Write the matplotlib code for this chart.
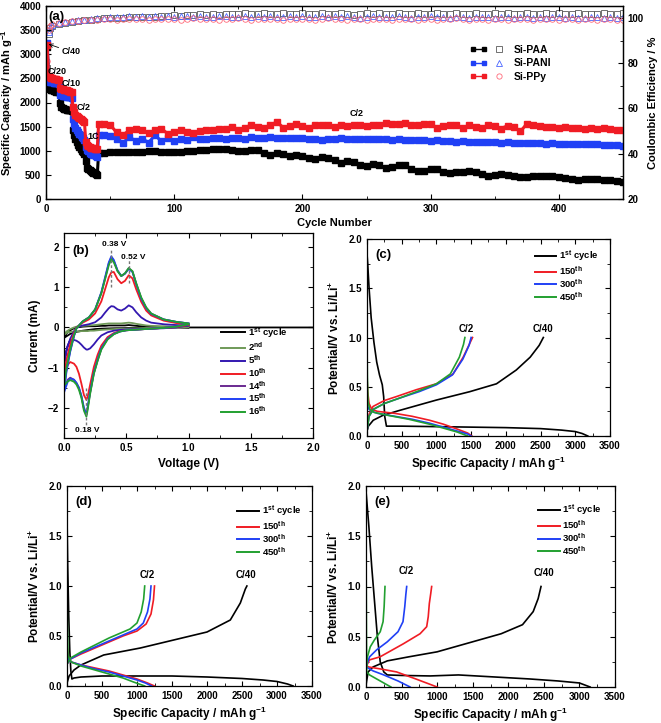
import matplotlib
matplotlib.use('Agg')
import matplotlib.pyplot as plt
from matplotlib.lines import Line2D
from matplotlib.legend_handler import HandlerTuple, HandlerLine2D
from matplotlib.ticker import MultipleLocator

plt.rcParams.update({
    'font.family': ['Liberation Sans', 'DejaVu Sans'],
    'font.weight': 'bold',
    'axes.labelweight': 'bold',
    'font.size': 7,
    'mathtext.fontset': 'custom',
    'mathtext.rm': 'Liberation Sans:bold',
    'mathtext.it': 'Liberation Sans:bold',
    'mathtext.bf': 'Liberation Sans:bold',
    'mathtext.default': 'rm',
    'xtick.direction': 'in', 'ytick.direction': 'in',
    'axes.linewidth': 0.9,
    'xtick.major.size': 3.5, 'ytick.major.size': 3.5,
    'xtick.minor.size': 2, 'ytick.minor.size': 2,
})

# ---------------- panel (a) data ----------------
cycles_early = list(range(1, 41))
cycles_late = [41] + list(range(45, 451, 5))

paa_early = [3150, 2300, 2270, 2260, 2250, 2240, 2230, 2220, 2220, 2210,
             1980, 1900, 1880, 1870, 1860, 1850, 1850, 1840, 1840, 1830,
             1430, 1320, 1240, 1180, 1120, 1080, 1040, 1000, 970, 940,
             780, 640, 620, 600, 580, 560, 540, 530, 510, 500]
pani_early = [3230, 2440, 2430, 2420, 2420, 2410, 2410, 2400, 2400, 2390,
              2160, 2150, 2140, 2130, 2130, 2120, 2120, 2110, 2110, 2100,
              1650, 1550, 1480, 1430, 1390, 1350, 1320, 1290, 1260, 1230,
              1080, 1020, 990, 960, 940, 930, 920, 910, 900, 880]
ppy_early = [3190, 2540, 2520, 2510, 2500, 2490, 2480, 2480, 2470, 2460,
             2300, 2280, 2270, 2260, 2250, 2250, 2240, 2230, 2220, 2210,
             1910, 1800, 1740, 1710, 1690, 1670, 1650, 1640, 1620, 1600,
             1180, 1120, 1090, 1070, 1060, 1050, 1050, 1040, 1040, 1030]

paa_late = [950, 960, 970, 975, 975, 980, 980, 980, 985, 985, 980, 980, 975,
            980, 990, 1000, 1010, 1020, 1030, 1040, 1030, 1010, 1000, 990, 1020, 1010, 960, 920, 950, 930, 900, 920, 900,
            860, 820, 880, 840, 800, 750, 780, 760, 700, 690, 730, 700, 650, 660, 700, 700, 620, 580, 590, 630,
            620, 560, 540, 550, 560, 570, 550, 510, 480, 490, 510, 500, 470, 450, 460, 480, 480, 470, 470, 460,
            440, 410, 400, 410, 420, 410, 400, 390, 370, 350]
pani_late = [1330, 1320, 1300, 1240, 1160, 1290, 1200, 1250, 1170, 1320, 1200, 1260, 1200,
             1240, 1220, 1280, 1250, 1240, 1270, 1260, 1250, 1270, 1260, 1250, 1280, 1270, 1260, 1280, 1270, 1260, 1270, 1260, 1260,
             1250, 1240, 1230, 1240, 1250, 1260, 1250, 1240, 1250, 1250, 1240, 1250, 1240, 1230, 1240, 1230, 1220, 1230, 1220, 1210,
             1220, 1200, 1210, 1190, 1200, 1190, 1180, 1190, 1180, 1180, 1170, 1180, 1170, 1160, 1170, 1160, 1160, 1150, 1160, 1150,
             1140, 1150, 1140, 1130, 1140, 1130, 1120, 1120, 1110, 1100]
ppy_late = [1550, 1560, 1540, 1380, 1330, 1420, 1450, 1430, 1360, 1420, 1460, 1350, 1390,
            1420, 1390, 1370, 1410, 1440, 1440, 1460, 1450, 1500, 1420, 1480, 1530, 1500, 1470, 1530, 1600, 1480, 1510, 1560, 1520,
            1470, 1540, 1530, 1530, 1500, 1530, 1520, 1540, 1530, 1520, 1540, 1530, 1580, 1560, 1550, 1580, 1540, 1530, 1550, 1560,
            1470, 1520, 1540, 1530, 1470, 1530, 1500, 1470, 1530, 1510, 1460, 1520, 1490, 1400, 1560, 1540, 1510, 1500, 1500, 1480,
            1490, 1470, 1480, 1460, 1470, 1460, 1470, 1450, 1440, 1430]

ce_cycles = [1, 2, 3] + list(range(5, 451, 5))
ce_paa = [78.0, 93.0, 95.5, 96.5, 97.3, 97.8, 98.3, 98.7, 99.0, 99.3, 99.6, 99.8, 100.0, 100.2, 100.1, 100.4,
          100.3, 100.5, 100.6, 100.4, 100.7, 100.9, 101.2, 101.0, 101.5, 101.3, 101.6, 101.4, 101.8, 101.5,
          101.7, 101.9, 101.6, 102.0, 101.7, 101.8, 102.1, 101.6, 101.9, 102.2, 101.8, 101.7, 102.0, 101.6,
          101.9, 102.3, 101.8, 101.6, 102.0, 101.7, 101.5, 101.9, 102.2, 101.7, 102.0, 101.8, 101.6, 102.1,
          101.8, 101.9, 102.4, 101.7, 101.8, 102.0, 101.6, 101.9, 102.1, 101.7, 101.8, 102.2, 101.6, 101.9,
          102.0, 101.7, 102.3, 101.8, 101.6, 102.0, 101.9, 101.7, 102.1, 101.8, 102.0, 101.7, 101.9, 102.2,
          101.8, 101.6, 101.9, 102.1, 101.8, 101.7, 102.0]
ce_pani = [75.0, 94.0, 96.0, 97.0, 97.6, 98.1, 98.5, 98.9, 99.2, 99.5, 99.8, 100.1, 100.3, 100.5, 100.4, 100.7,
           100.6, 100.8, 100.5, 100.9, 100.6, 100.8, 100.4, 100.7, 100.9, 100.5, 100.8, 100.6, 100.3, 100.7,
           100.9, 100.5, 100.6, 100.8, 100.4, 100.7, 100.5, 100.9, 100.6, 100.4, 100.8, 100.5, 100.7, 100.3,
           100.6, 100.8, 100.4, 100.7, 100.5, 100.9, 100.6, 100.2, 100.5, 100.7, 100.4, 100.6, 100.3, 100.7,
           100.5, 100.2, 100.6, 100.4, 100.7, 100.3, 100.5, 100.1, 100.6, 100.4, 100.2, 100.6, 100.3, 100.5,
           100.1, 100.4, 100.6, 100.2, 100.5, 100.3, 100.0, 100.4, 100.2, 100.5, 100.3, 100.1, 100.4, 100.2,
           100.0, 100.3, 100.5, 100.1, 100.3, 100.2, 100.4]
ce_ppy = [81.0, 94.5, 96.5, 97.2, 97.8, 98.2, 98.5, 98.8, 99.0, 99.2, 99.3, 99.4, 99.5, 99.3, 99.6, 99.4,
          99.7, 99.5, 99.3, 99.6, 99.4, 99.7, 99.5, 99.3, 99.6, 99.8, 99.4, 99.5, 99.7, 99.3, 99.6, 99.4,
          99.8, 99.5, 99.3, 99.6, 99.4, 99.7, 99.5, 99.2, 99.6, 99.4, 99.7, 99.5, 99.3, 99.6, 99.8, 99.4,
          99.5, 99.3, 99.7, 99.5, 99.2, 99.6, 99.4, 99.7, 99.3, 99.5, 99.6, 99.4, 99.2, 99.7, 99.5, 99.3,
          99.6, 99.4, 99.8, 99.5, 99.3, 99.6, 99.4, 99.2, 99.5, 99.7, 99.3, 99.6, 99.4, 99.5, 99.2, 99.6,
          99.4, 99.7, 99.3, 99.5, 99.6, 99.2, 99.4, 99.7, 99.3, 99.5, 99.4, 99.2, 99.3]

# ---------------- panel (b) data ----------------
cv_cath_v = [1.0, 0.9, 0.8, 0.7, 0.6, 0.5, 0.45, 0.4, 0.35, 0.3, 0.27, 0.24, 0.21, 0.19, 0.18,
             0.16, 0.14, 0.12, 0.1, 0.08, 0.05, 0.03, 0.0]
cv_anod_v = [0.0, 0.02, 0.05, 0.08, 0.1, 0.15, 0.2, 0.25, 0.3, 0.33, 0.36, 0.38, 0.4, 0.43, 0.46,
             0.49, 0.52, 0.55, 0.58, 0.62, 0.66, 0.7, 0.8, 0.9, 1.0]
cv1_cath_v = [2.0, 1.8, 1.6, 1.4, 1.2, 1.0, 0.8, 0.6, 0.5, 0.4, 0.3, 0.25, 0.2, 0.15, 0.1, 0.05, 0.0]
cv1_cath_i = [0, 0, 0, 0, 0, 0, -0.005, -0.01, -0.015, -0.02, -0.03, -0.04, -0.06, -0.08, -0.11, -0.16, -0.26]
cv1_anod_i = [-0.26, -0.15, -0.07, -0.02, 0.0, 0.02, 0.03, 0.03, 0.04, 0.04, 0.05, 0.05, 0.05, 0.05, 0.05,
              0.05, 0.06, 0.05, 0.04, 0.03, 0.02, 0.02, 0.01, 0.01, 0.0]
cv2_cath_i = [0.02, 0.0, -0.01, -0.01, -0.02, -0.03, -0.03, -0.04, -0.05, -0.06, -0.07, -0.08, -0.08, -0.09,
              -0.09, -0.09, -0.09, -0.1, -0.1, -0.1, -0.11, -0.12, -0.18]
cv2_anod_i = [-0.18, -0.1, -0.04, 0.0, 0.02, 0.04, 0.05, 0.06, 0.08, 0.09, 0.1, 0.1, 0.1, 0.1, 0.1,
              0.11, 0.12, 0.11, 0.09, 0.07, 0.05, 0.04, 0.03, 0.02, 0.02]
cv5_cath_i = [0.05, 0.0, -0.02, -0.03, -0.04, -0.05, -0.06, -0.08, -0.12, -0.2, -0.3, -0.42, -0.52, -0.55,
              -0.55, -0.5, -0.43, -0.37, -0.33, -0.31, -0.33, -0.45, -0.9]
cv5_anod_i = [-0.9, -0.55, -0.28, -0.1, 0.0, 0.05, 0.08, 0.13, 0.25, 0.37, 0.48, 0.53, 0.52, 0.45, 0.42,
              0.47, 0.55, 0.5, 0.38, 0.25, 0.17, 0.12, 0.08, 0.06, 0.05]
cv10_cath_i = [0.06, 0.01, -0.01, -0.03, -0.05, -0.07, -0.09, -0.14, -0.24, -0.45, -0.68, -0.98, -1.42, -1.72,
               -1.8, -1.68, -1.4, -1.15, -0.98, -0.9, -0.86, -0.93, -1.25]
cv10_anod_i = [-1.25, -0.8, -0.42, -0.14, 0.0, 0.12, 0.2, 0.35, 0.65, 0.95, 1.25, 1.37, 1.38, 1.2, 1.1,
               1.16, 1.3, 1.22, 0.95, 0.64, 0.42, 0.3, 0.17, 0.11, 0.07]
cv14_cath_i = [0.08, 0.02, -0.01, -0.03, -0.05, -0.07, -0.1, -0.16, -0.28, -0.53, -0.82, -1.14, -1.62, -2.0,
               -2.17, -2.02, -1.72, -1.5, -1.38, -1.3, -1.25, -1.3, -1.55]
cv14_anod_i = [-1.55, -1.05, -0.58, -0.21, -0.02, 0.15, 0.25, 0.44, 0.86, 1.22, 1.6, 1.74, 1.66, 1.41, 1.28,
               1.34, 1.47, 1.39, 1.09, 0.73, 0.49, 0.34, 0.2, 0.14, 0.1]
cv15_cath_i = [0.08, 0.02, -0.01, -0.03, -0.05, -0.07, -0.1, -0.16, -0.28, -0.52, -0.8, -1.12, -1.6, -1.98,
               -2.15, -2.0, -1.7, -1.5, -1.38, -1.3, -1.27, -1.35, -1.62]
cv15_anod_i = [-1.62, -1.1, -0.6, -0.22, -0.02, 0.15, 0.25, 0.45, 0.88, 1.25, 1.62, 1.77, 1.68, 1.42, 1.28,
               1.34, 1.46, 1.38, 1.08, 0.72, 0.48, 0.34, 0.2, 0.14, 0.1]
cv16_cath_i = [0.08, 0.02, -0.01, -0.03, -0.05, -0.07, -0.1, -0.17, -0.3, -0.55, -0.83, -1.15, -1.65, -2.05,
               -2.22, -2.07, -1.75, -1.55, -1.42, -1.35, -1.31, -1.34, -1.45]
cv16_anod_i = [-1.45, -1.0, -0.55, -0.2, -0.02, 0.15, 0.25, 0.45, 0.85, 1.2, 1.55, 1.7, 1.62, 1.4, 1.28,
               1.35, 1.48, 1.4, 1.1, 0.75, 0.5, 0.35, 0.2, 0.14, 0.1]

# ---------------- panels (c), (d), (e) data ----------------
c_dis = {
    '1st': ([0, 10, 30, 60, 100, 140, 180, 220, 240, 255, 280, 500, 1000, 1500, 2000, 2500, 2800, 3000, 3100, 3180],
            [1.85, 1.75, 1.5, 1.2, 0.95, 0.75, 0.62, 0.52, 0.4, 0.2, 0.1, 0.1, 0.095, 0.09, 0.085, 0.075, 0.06, 0.045, 0.025, 0.0]),
    '150': ([0, 10, 30, 70, 150, 400, 650, 900, 1100, 1300, 1450, 1510],
            [0.6, 0.45, 0.33, 0.27, 0.25, 0.23, 0.2, 0.16, 0.12, 0.07, 0.03, 0.0]),
    '300': ([0, 10, 30, 70, 150, 400, 650, 900, 1100, 1300, 1450, 1500],
            [0.35, 0.3, 0.27, 0.25, 0.23, 0.2, 0.17, 0.13, 0.09, 0.05, 0.02, 0.0]),
    '450': ([0, 5, 15, 40, 100, 300, 600, 900, 1100, 1300, 1450],
            [1.0, 0.6, 0.35, 0.27, 0.24, 0.21, 0.17, 0.12, 0.08, 0.04, 0.0]),
}
c_chg = {
    '1st': ([0, 20, 90, 230, 470, 1000, 1480, 1865, 2150, 2350, 2480, 2540],
            [0.05, 0.1, 0.16, 0.21, 0.26, 0.365, 0.45, 0.53, 0.67, 0.8, 0.92, 1.0]),
    '150': ([0, 30, 87, 250, 423, 711, 1000, 1240, 1385, 1480, 1520],
            [0.05, 0.22, 0.3, 0.36, 0.4, 0.47, 0.53, 0.63, 0.8, 0.94, 1.0]),
    '300': ([0, 30, 90, 250, 450, 750, 1000, 1230, 1380, 1470, 1500],
            [0.05, 0.2, 0.27, 0.33, 0.38, 0.45, 0.52, 0.62, 0.78, 0.92, 1.0]),
    '450': ([0, 30, 90, 250, 450, 750, 1000, 1200, 1330, 1390, 1410],
            [0.05, 0.2, 0.27, 0.33, 0.38, 0.46, 0.53, 0.63, 0.8, 0.93, 1.0]),
}
d_dis = {
    '1st': ([0, 10, 25, 40, 55, 70, 100, 200, 500, 1000, 1500, 2000, 2500, 2800, 3000, 3150, 3230],
            [1.7, 1.2, 0.7, 0.35, 0.15, 0.07, 0.08, 0.09, 0.1, 0.1, 0.1, 0.09, 0.075, 0.06, 0.045, 0.02, 0.0]),
    '150': ([0, 20, 60, 200, 400, 600, 800, 1000, 1150, 1250],
            [0.4, 0.28, 0.24, 0.21, 0.18, 0.15, 0.11, 0.07, 0.03, 0.0]),
    '300': ([0, 20, 60, 200, 400, 600, 800, 1000, 1120, 1210],
            [0.35, 0.27, 0.24, 0.21, 0.17, 0.14, 0.1, 0.06, 0.03, 0.0]),
    '450': ([0, 5, 15, 60, 200, 400, 600, 800, 950, 1110],
            [1.0, 0.6, 0.3, 0.24, 0.2, 0.16, 0.12, 0.08, 0.04, 0.0]),
}
d_chg = {
    '1st': ([0, 30, 100, 200, 524, 1048, 1524, 2000, 2333, 2476, 2548, 2570],
            [0.03, 0.1, 0.16, 0.21, 0.31, 0.38, 0.46, 0.54, 0.66, 0.83, 0.97, 1.0]),
    '150': ([0, 50, 200, 400, 600, 800, 1000, 1130, 1200, 1235, 1250],
            [0.22, 0.27, 0.32, 0.38, 0.44, 0.5, 0.55, 0.62, 0.72, 0.86, 1.0]),
    '300': ([0, 50, 200, 400, 600, 800, 1000, 1090, 1150, 1185, 1200],
            [0.22, 0.27, 0.33, 0.39, 0.45, 0.51, 0.57, 0.63, 0.74, 0.87, 1.0]),
    '450': ([0, 50, 200, 400, 600, 800, 900, 1000, 1060, 1095, 1110],
            [0.22, 0.28, 0.34, 0.41, 0.48, 0.54, 0.57, 0.63, 0.74, 0.87, 1.0]),
}
e_dis = {
    '1st': ([0, 40, 80, 120, 160, 200, 250, 300, 500, 900, 1300, 1800, 2300, 2700, 3000, 3150],
            [1.95, 1.6, 1.2, 0.85, 0.5, 0.25, 0.15, 0.12, 0.115, 0.11, 0.12, 0.1, 0.08, 0.06, 0.04, 0.0]),
    '150': ([0, 33, 200, 430, 700, 1000],
            [0.22, 0.2, 0.18, 0.15, 0.08, 0.0]),
    '300': ([0, 100, 250, 450, 620],
            [0.2, 0.16, 0.12, 0.06, 0.0]),
    '450': ([0, 3, 6, 10, 50, 150, 250, 350],
            [1.5, 1.0, 0.5, 0.15, 0.12, 0.08, 0.04, 0.0]),
}
e_chg = {
    '1st': ([0, 30, 100, 300, 600, 1000, 1500, 1900, 2200, 2350, 2420, 2460],
            [0.02, 0.15, 0.2, 0.26, 0.3, 0.35, 0.45, 0.53, 0.62, 0.75, 0.88, 1.0]),
    '150': ([0, 50, 197, 525, 760, 853, 875, 890, 910, 923],
            [0.2, 0.27, 0.3, 0.43, 0.53, 0.6, 0.7, 0.83, 0.93, 1.0]),
    '300': ([0, 50, 150, 300, 450, 520, 545, 560, 572],
            [0.2, 0.3, 0.37, 0.45, 0.55, 0.65, 0.8, 0.92, 1.0]),
    '450': ([0, 20, 60, 120, 200, 240, 255, 262, 267],
            [0.15, 0.3, 0.4, 0.47, 0.55, 0.65, 0.8, 0.92, 1.0]),
}

RED = '#f01c24'
BLUE = '#2040f5'
GREEN = '#22a030'
BLACK = '#000000'

W, H = 661, 723
fig = plt.figure(figsize=(W / 100, H / 100), dpi=100)


def add_ax(l, r, t, b):
    return fig.add_axes([l / W, 1 - b / H, (r - l) / W, (b - t) / H])


# ================= panel (a) =================
ax = add_ax(46, 623, 6, 199)
ax2 = ax.twinx()
ax.set_zorder(ax2.get_zorder() + 1)
ax.patch.set_visible(False)

n = min(len(ce_cycles), len(ce_paa), len(ce_pani), len(ce_ppy))
ax2.plot(ce_cycles[:n], ce_paa[:n], ls='none', marker='s', ms=4.0, mfc='none', mec='#5a5a5a', mew=0.6)
ax2.plot(ce_cycles[:n], ce_pani[:n], ls='none', marker='^', ms=4.0, mfc='none', mec='#4a66ff', mew=0.6)
ax2.plot(ce_cycles[:n], ce_ppy[:n], ls='none', marker='o', ms=4.0, mfc='none', mec='#ff6a7a', mew=0.6)
ax2.set_ylim(20, 105.3)
ax2.yaxis.set_major_locator(MultipleLocator(20))
ax2.yaxis.set_minor_locator(MultipleLocator(10))
ax2.tick_params(which='both', direction='in', labelsize=7)
ax2.set_ylabel('Coulombic Efficiency / %', fontsize=8, fontweight='bold', rotation=90, labelpad=3)

series = [(paa_early, paa_late, BLACK), (pani_early, pani_late, BLUE), (ppy_early, ppy_late, RED)]
for early, late, col in series:
    m = min(len(cycles_late), len(late))
    ax.plot(cycles_early + cycles_late[:m], early + late[:m], '-', color=col, lw=2.2,
            marker='s', ms=3.8, mec=col, mfc=col)
ax.set_xlim(0, 450)
ax.set_ylim(0, 4000)
ax.xaxis.set_major_locator(MultipleLocator(100))
ax.xaxis.set_minor_locator(MultipleLocator(50))
ax.yaxis.set_major_locator(MultipleLocator(500))
ax.tick_params(which='both', direction='in', labelsize=7, top=True, right=False)
ax.set_xlabel('Cycle Number', fontsize=8, fontweight='bold', labelpad=3)
ax.set_ylabel('Specific Capacity / mAh g$^{-1}$', fontsize=8, fontweight='bold', labelpad=3)
ax.text(0.004, 0.975, '(a)', transform=ax.transAxes, fontsize=9.5, fontweight='bold', va='top')
tk = dict(fontsize=6.5, fontweight='bold', va='center', zorder=10)
ax.annotate('C/40', xy=(2, 3210), xytext=(12, 3050),
            arrowprops=dict(arrowstyle='->', lw=0.6, color='k', shrinkA=0, shrinkB=0), **tk)
ax.text(1, 2650, 'C/20', **tk)
ax.text(12.5, 2400, 'C/10', **tk)
ax.text(23.5, 1900, 'C/2', **tk)
ax.text(32.0, 1290, '1C', **tk)
ax.text(242, 1770, 'C/2', ha='center', **tk)

h_lines = []
h_mk = []
for col, mk, mcol in [(BLACK, 's', '#5a5a5a'), (BLUE, '^', '#4a66ff'), (RED, 'o', '#ff6a7a')]:
    h_lines.append(Line2D([], [], color=col, lw=1.0, marker='s', ms=3.3, mfc=col, mec=col))
    h_mk.append(Line2D([], [], ls='none', marker=mk, ms=3.8, mfc='none', mec=mcol, mew=0.6))
hmap = {h: HandlerLine2D(numpoints=2) for h in h_lines}
hmap.update({h: HandlerLine2D(numpoints=1) for h in h_mk})
hmap[tuple] = HandlerTuple(ndivide=None, pad=0.3)
leg = ax.legend([(a, b) for a, b in zip(h_lines, h_mk)], ['Si-PAA', 'Si-PANI', 'Si-PPy'],
                handler_map=hmap, loc='upper left', bbox_to_anchor=(0.735, 0.8),
                frameon=False, fontsize=7.5, handlelength=3.6, handletextpad=0.6,
                labelspacing=0.35, borderpad=0, borderaxespad=0)

# ================= panel (b) =================
bx = add_ax(64, 313, 233, 438)
cv_sets = [
    (cv1_cath_v, cv1_cath_i, cv1_anod_i, BLACK, '-', r'1$^{st}$ cycle'),
    (cv_cath_v, cv2_cath_i, cv2_anod_i, '#6f9a58', '-', r'2$^{nd}$'),
    (cv_cath_v, cv5_cath_i, cv5_anod_i, '#3318b0', '-', r'5$^{th}$'),
    (cv_cath_v, cv10_cath_i, cv10_anod_i, RED, '-', r'10$^{th}$'),
    (cv_cath_v, cv14_cath_i, cv14_anod_i, '#6a2a90', '-', r'14$^{th}$'),
    (cv_cath_v, cv15_cath_i, cv15_anod_i, BLUE, '-', r'15$^{th}$'),
    (cv_cath_v, cv16_cath_i, cv16_anod_i, GREEN, '-', r'16$^{th}$'),
]
handles_b = []
for cv, ci, ai, col, ls, lab in cv_sets:
    bx.plot(cv + cv_anod_v, ci + ai, color=col, lw=1.3, ls=ls)
    handles_b.append(Line2D([], [], color=col, lw=1.4, ls=ls))
bx.plot([0.38, 0.38], [1.0, 1.95], ls=(0, (2, 1.5)), color='#777777', lw=1.0)
bx.plot([0.52, 0.52], [1.1, 1.7], ls=(0, (2, 1.5)), color='#777777', lw=1.0)
bx.plot([0.18, 0.18], [-1.5, -2.42], ls=(0, (2, 1.5)), color='#777777', lw=1.0)
bx.text(0.40, 2.07, '0.38 V', fontsize=6, fontweight='bold', ha='center', va='center')
bx.text(0.555, 1.75, '0.52 V', fontsize=6, fontweight='bold', ha='center', va='center')
bx.text(0.19, -2.57, '0.18 V', fontsize=6, fontweight='bold', ha='center', va='center')
bx.set_xlim(0, 2.0)
bx.set_ylim(-2.75, 2.35)
bx.xaxis.set_major_locator(MultipleLocator(0.5))
bx.xaxis.set_minor_locator(MultipleLocator(0.25))
bx.yaxis.set_major_locator(MultipleLocator(1))
bx.yaxis.set_minor_locator(MultipleLocator(0.5))
bx.tick_params(which='both', direction='in', labelsize=7, top=True, right=True)
bx.set_xlabel('Voltage (V)', fontsize=8.5, fontweight='bold', labelpad=4)
bx.set_ylabel('Current (mA)', fontsize=8.5, fontweight='bold', labelpad=5)
bx.text(0.035, 0.94, '(b)', transform=bx.transAxes, fontsize=9.5, fontweight='bold', va='top')
bx.legend(handles_b, [s[5] for s in cv_sets], loc='upper left', bbox_to_anchor=(0.63, 0.55),
          frameon=False, fontsize=6.8, handlelength=2.6, handletextpad=0.3, labelspacing=0.02,
          borderpad=0, borderaxespad=0)


# ================= panels (c), (d), (e) =================
def gcd_panel(axx, dis, chg, label, c2pos, c40pos, legpos):
    cols = {'1st': BLACK, '150': RED, '300': BLUE, '450': GREEN}
    for key in ['1st', '150', '300', '450']:
        axx.plot(dis[key][0], dis[key][1], color=cols[key], lw=1.2)
        axx.plot(chg[key][0], chg[key][1], color=cols[key], lw=1.2)
    axx.set_xlim(0, 3500)
    axx.set_ylim(0, 2.0)
    axx.xaxis.set_major_locator(MultipleLocator(500))
    axx.xaxis.set_minor_locator(MultipleLocator(250))
    axx.yaxis.set_major_locator(MultipleLocator(0.5))
    axx.yaxis.set_minor_locator(MultipleLocator(0.25))
    axx.tick_params(which='both', direction='in', labelsize=7, top=True, right=True)
    axx.set_xlabel('Specific Capacity / mAh g$^{-1}$', fontsize=8.5, fontweight='bold', labelpad=3)
    axx.set_ylabel('Potential/V vs. Li/Li$^{+}$', fontsize=8.5, fontweight='bold', labelpad=5)
    axx.text(0.035, 0.95, label, transform=axx.transAxes, fontsize=9.5, fontweight='bold', va='top')
    axx.text(c2pos[0], c2pos[1], 'C/2', fontsize=7, fontweight='bold', ha='center', va='center')
    axx.text(c40pos[0], c40pos[1], 'C/40', fontsize=7, fontweight='bold', ha='center', va='center')
    hs = [Line2D([], [], color=cols[k], lw=1.4) for k in ['1st', '150', '300', '450']]
    labs = [r'1$^{st}$ cycle', r'150$^{th}$', r'300$^{th}$', r'450$^{th}$']
    axx.legend(hs, labs, loc='upper left', bbox_to_anchor=legpos, frameon=False, fontsize=6.8,
               handlelength=2.3, handletextpad=0.3, labelspacing=0.02, borderpad=0, borderaxespad=0)


cx = add_ax(367, 610, 239, 436)
gcd_panel(cx, c_dis, c_chg, '(c)', (1430, 1.09), (2540, 1.09), (0.69, 0.95))
dx = add_ax(67, 312, 486, 686)
gcd_panel(dx, d_dis, d_chg, '(d)', (1150, 1.11), (2550, 1.11), (0.694, 0.91))
ex = add_ax(366, 615, 486, 687)
gcd_panel(ex, e_dis, e_chg, '(e)', (570, 1.15), (2500, 1.13), (0.69, 0.915))

fig.savefig('out.png', dpi=100)
